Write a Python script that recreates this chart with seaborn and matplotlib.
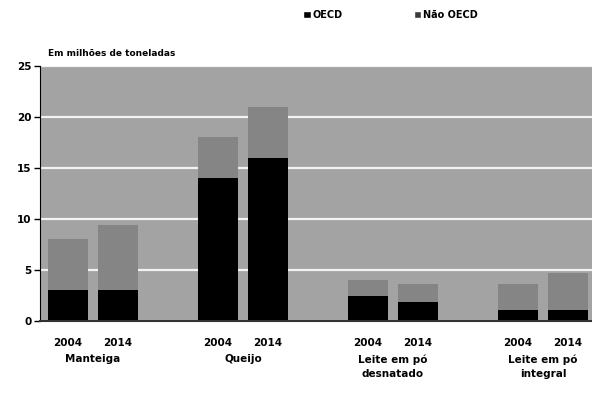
import pandas as pd
import matplotlib as mpl
import matplotlib.pyplot as plt
from matplotlib.patches import Patch
import seaborn as sns

# values (millions of tonnes)
products = ["Manteiga", "Queijo", "Leite em pó\ndesnatado", "Leite em pó\nintegral"]
years = ["2004", "2014"]
oecd = [3.0, 3.0, 14.0, 16.0, 2.5, 1.9, 1.1, 1.1]
nao_oecd = [5.0, 6.4, 4.0, 5.0, 1.5, 1.7, 2.5, 3.6]

rows = []
for i, prod in enumerate(products):
    for j, yr in enumerate(years):
        k = i * 2 + j
        rows.append({"Produto": prod, "Ano": yr, "pos": i * 3 + j,
                     "OECD": oecd[k], "Nao": nao_oecd[k], "Total": oecd[k] + nao_oecd[k]})
df = pd.DataFrame(rows)

sns.set_style("white")
mpl.rcParams["font.family"] = ["DejaVu Sans"]
mpl.rcParams["font.weight"] = "bold"
mpl.rcParams["text.color"] = "black"
mpl.rcParams["xtick.color"] = "black"
mpl.rcParams["ytick.color"] = "black"

fig = plt.figure(figsize=(5.92, 3.94), dpi=100)
ax = fig.add_axes([40 / 592, 1 - 321 / 394, 552 / 592, 255 / 394])
ax.set_facecolor("#a3a3a3")

sns.barplot(data=df, x="pos", y="Total", native_scale=True, width=0.8,
            color="#858585", saturation=1, linewidth=0, ax=ax)
sns.barplot(data=df, x="pos", y="OECD", native_scale=True, width=0.8,
            color="black", saturation=1, linewidth=0, ax=ax)

ax.set_xlim(-0.56, 10.48)
ax.set_ylim(0, 25)
ax.set_yticks([0, 5, 10, 15, 20, 25])
ax.yaxis.grid(True, color="#f2f2f2", linewidth=1.6)
ax.set_axisbelow(True)
ax.set_xticks(df["pos"])
ax.set_xticklabels(df["Ano"], fontsize=7.5, fontweight="bold")
ax.tick_params(axis="x", length=0, pad=12)
ax.tick_params(axis="y", length=4, width=1, labelsize=7.5, pad=2, left=True)
ax.set_xlabel("")
ax.set_ylabel("")
for s in ["top", "right"]:
    ax.spines[s].set_visible(False)
ax.spines["left"].set_color("black")
ax.spines["bottom"].set_color("#333333")
ax.spines["bottom"].set_linewidth(1.5)

for i, prod in enumerate(products):
    ax.text(i * 3 + 0.5, -0.13, prod, transform=ax.get_xaxis_transform(),
            ha="center", va="top", fontsize=7.5, fontweight="bold", linespacing=1.5)

ax.text(8 / 552, 1 + 12 / 255, "Em milhões de toneladas", transform=ax.transAxes,
        ha="left", va="center", fontsize=6.5, fontweight="bold")

handles = [Patch(facecolor="black", label="OECD"),
           Patch(facecolor="#3a3a3a", label="Não OECD")]
fig.legend(handles=handles, loc="center left", bbox_to_anchor=(294 / 592, 1 - 15 / 394),
           ncol=2, frameon=False, handlelength=0.8, handleheight=0.8,
           handletextpad=0.2, columnspacing=7.3, prop={"weight": "bold", "size": 7})

fig.savefig("out.png", dpi=100, facecolor="white")
